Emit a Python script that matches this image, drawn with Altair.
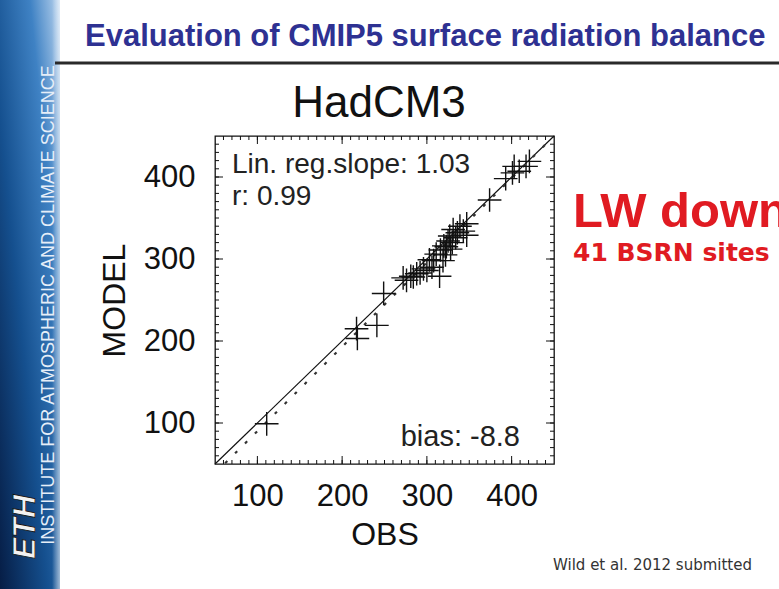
import altair as alt
import pandas as pd

# ---------------- data ----------------
obs = [111, 217, 218, 241, 249, 272, 276, 281, 284, 288, 292, 296, 300, 303,
       306, 308, 311, 315, 316, 319, 320, 322, 323, 325, 327, 328, 330, 331,
       334, 336, 339, 343, 347, 347, 374, 393, 401, 403, 409, 417, 421]
model = [99, 215, 203, 219, 258, 277, 274, 279, 278, 282, 283, 288, 286, 299,
         290, 298, 306, 279, 311, 298, 316, 305, 315, 322, 328, 312, 320, 336,
         326, 332, 340, 334, 343, 329, 372, 398, 405, 413, 407, 413, 419]
one_x = [50, 450]
one_y = [50, 450]
reg_x = [62, 449]
reg_y = [51, 449]
tick_labels = [100, 200, 300, 400]
major_ticks = [100, 200, 300, 400]
minor_ticks = list(range(60, 450, 10))

title_text = "Evaluation of CMIP5 surface radiation balance"
model_name = "HadCM3"
slope_text = "Lin. reg.slope: 1.03"
r_text = "r: 0.99"
bias_text = "bias: -8.8"
var_text = "LW down"
sites_text = "41 BSRN sites"
ref_text = "Wild et al. 2012 submitted"
inst_text = "INSTITUTE FOR ATMOSPHERIC AND CLIMATE SCIENCE"
logo_text = "ETH"

# ---------------- layout ----------------
W, H = 339, 328
PL, PT = 215, 136
FONT = "Liberation Sans"

xs = alt.Scale(domain=[50, 450], nice=False, zero=False)
ys = alt.Scale(domain=[50, 450], nice=False, zero=False)

xaxis = alt.Axis(values=tick_labels, ticks=False, tickSize=0, domain=False, grid=False,
                 labelFontSize=31, labelFont=FONT, labelColor="#111", labelPadding=17,
                 title="OBS", titleFontSize=32, titleFont=FONT, titleFontWeight="normal",
                 titleColor="#111", titleX=W / 2, titleY=80, titleAlign="center",
                 titleBaseline="alphabetic", titleAngle=0)
yaxis = alt.Axis(values=tick_labels, ticks=False, tickSize=0, domain=False, grid=False,
                 labelFontSize=31, labelFont=FONT, labelColor="#111", labelPadding=20,
                 title="MODEL", titleFontSize=32, titleFont=FONT, titleFontWeight="normal",
                 titleColor="#111", titleX=-91, titleY=H / 2, titleAlign="center",
                 titleBaseline="alphabetic", titleAngle=270)

pts = pd.DataFrame({"obs": obs, "model": model})
one = pd.DataFrame({"x": one_x, "y": one_y})
reg = pd.DataFrame({"x": reg_x, "y": reg_y})
minor = pd.DataFrame({"v": minor_ticks})
major = pd.DataFrame({"v": major_ticks})
dummy = pd.DataFrame({"a": [0]})

sidebar_grad = alt.LinearGradient(
    gradient="linear",
    stops=[alt.GradientStop(offset=0, color="#061d45"),
           alt.GradientStop(offset=0.4, color="#15508f"),
           alt.GradientStop(offset=0.75, color="#3f82c4"),
           alt.GradientStop(offset=1, color="#b9d3ee")],
    x1=0, y1=1, x2=1, y2=0)
edge_grad = alt.LinearGradient(
    gradient="linear",
    stops=[alt.GradientStop(offset=0, color="rgba(255,255,255,0)"),
           alt.GradientStop(offset=1, color="rgba(255,255,255,1)")],
    x1=0, y1=0, x2=1, y2=0)

layers = []

layers.append(alt.Chart(dummy).mark_rect(fill=sidebar_grad).encode(
    x=alt.value(-PL), x2=alt.value(-PL + 60), y=alt.value(-PT), y2=alt.value(589 - PT)))
layers.append(alt.Chart(dummy).mark_rect(fill=edge_grad).encode(
    x=alt.value(-PL + 52), x2=alt.value(-PL + 66), y=alt.value(-PT), y2=alt.value(589 - PT)))

layers.append(alt.Chart(dummy).mark_text(
    text=inst_text, font=FONT, fontSize=18, color="#e6eef8", angle=270,
    align="center", baseline="alphabetic").encode(
    x=alt.value(54 - PL), y=alt.value(305 - PT)))
layers.append(alt.Chart(dummy).mark_text(
    text=logo_text, font=FONT, fontSize=32, fontWeight="bold", fontStyle="italic",
    color="#f2f2f2", stroke="#111", strokeWidth=0.8, angle=270,
    align="center", baseline="alphabetic").encode(
    x=alt.value(35 - PL), y=alt.value(527 - PT)))

# title and separator line
layers.append(alt.Chart(dummy).mark_text(
    text=title_text, font=FONT, fontSize=31, fontWeight="bold", color="#2e3192",
    align="left", baseline="alphabetic").encode(
    x=alt.value(85 - PL), y=alt.value(46 - PT)))
layers.append(alt.Chart(dummy).mark_rule(color="#2a2a2a", strokeWidth=3).encode(
    x=alt.value(55 - PL), x2=alt.value(779 - PL), y=alt.value(63 - PT)))

# plot title
layers.append(alt.Chart(dummy).mark_text(
    text=model_name, font=FONT, fontSize=44, color="#111",
    align="center", baseline="alphabetic").encode(
    x=alt.value(164), y=alt.value(117 - PT)))

# ticks on all four sides (inward)
for df, ln in ((minor, 4), (major, 8)):
    layers.append(alt.Chart(df).mark_rule(color="#111", strokeWidth=1).encode(
        x=alt.X("v:Q", scale=xs, axis=xaxis), y=alt.value(H), y2=alt.value(H - ln)))
    layers.append(alt.Chart(df).mark_rule(color="#111", strokeWidth=1).encode(
        x=alt.X("v:Q", scale=xs, axis=xaxis), y=alt.value(0), y2=alt.value(ln)))
    layers.append(alt.Chart(df).mark_rule(color="#111", strokeWidth=1).encode(
        y=alt.Y("v:Q", scale=ys, axis=yaxis), x=alt.value(0), x2=alt.value(ln)))
    layers.append(alt.Chart(df).mark_rule(color="#111", strokeWidth=1).encode(
        y=alt.Y("v:Q", scale=ys, axis=yaxis), x=alt.value(W), x2=alt.value(W - ln)))

# 1:1 line and regression line
layers.append(alt.Chart(one).mark_line(color="#111", strokeWidth=1.2).encode(
    x=alt.X("x:Q", scale=xs, axis=xaxis), y=alt.Y("y:Q", scale=ys, axis=yaxis)))
layers.append(alt.Chart(reg).mark_line(color="#333", strokeWidth=2.2, strokeDash=[3, 11]).encode(
    x=alt.X("x:Q", scale=xs, axis=xaxis), y=alt.Y("y:Q", scale=ys, axis=yaxis)))

# crosses
layers.append(alt.Chart(pts).mark_point(
    shape="M-1,0L1,0M0,-1L0,1", size=560, filled=False, color="#111",
    strokeWidth=1.4, opacity=1).encode(
    x=alt.X("obs:Q", scale=xs, axis=xaxis), y=alt.Y("model:Q", scale=ys, axis=yaxis)))

# in-plot annotations
layers.append(alt.Chart(dummy).mark_text(
    text=slope_text, font=FONT, fontSize=28, color="#222",
    align="left", baseline="alphabetic").encode(
    x=alt.value(17), y=alt.value(37)))
layers.append(alt.Chart(dummy).mark_text(
    text=r_text, font=FONT, fontSize=28, color="#222",
    align="left", baseline="alphabetic").encode(
    x=alt.value(17), y=alt.value(69)))
layers.append(alt.Chart(dummy).mark_text(
    text=bias_text, font=FONT, fontSize=29, color="#222",
    align="right", baseline="alphabetic").encode(
    x=alt.value(305), y=alt.value(310)))

# right side annotations
layers.append(alt.Chart(dummy).mark_text(
    text=var_text, font=FONT, fontSize=49, fontWeight="bold", color="#e01b22",
    align="left", baseline="alphabetic").encode(
    x=alt.value(573 - PL), y=alt.value(227 - PT)))
layers.append(alt.Chart(dummy).mark_text(
    text=sites_text, font="DejaVu Sans", fontSize=25, fontWeight="bold", color="#e01b22",
    align="left", baseline="alphabetic").encode(
    x=alt.value(573 - PL), y=alt.value(261 - PT)))
layers.append(alt.Chart(dummy).mark_text(
    text=ref_text, font="DejaVu Sans", fontSize=15, color="#333",
    align="left", baseline="alphabetic").encode(
    x=alt.value(553 - PL), y=alt.value(570 - PT)))

chart = alt.layer(*layers).properties(
    width=W, height=H,
    autosize=alt.AutoSizeParams(type="none"),
    padding={"left": PL, "top": PT, "right": 779 - PL - W, "bottom": 589 - PT - H},
    background="white",
).configure_view(stroke="#111", strokeWidth=1.3)

chart.save("out.html", embed_options={"renderer": "svg", "actions": False})
